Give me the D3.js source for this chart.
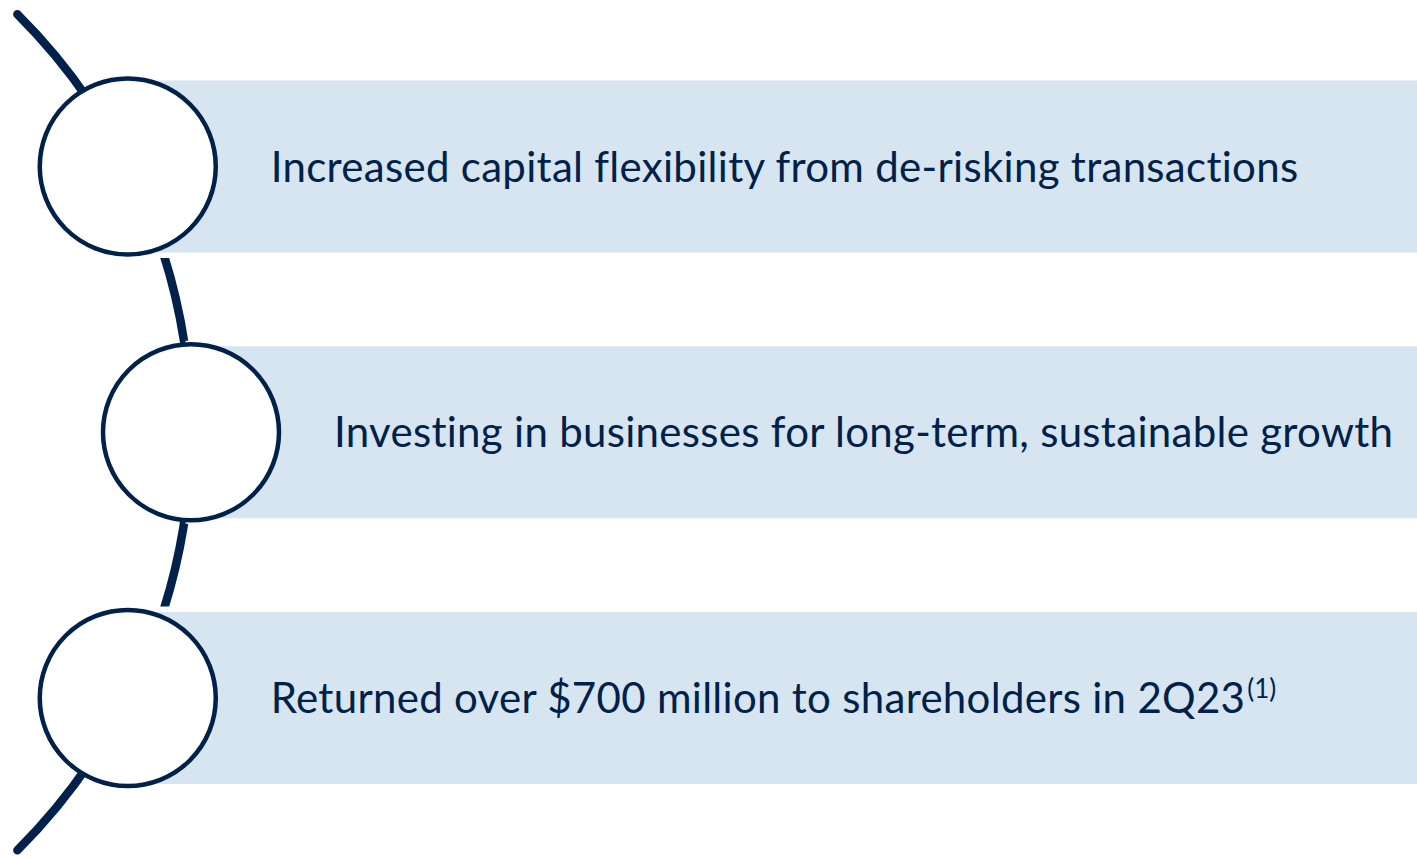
<!DOCTYPE html>
<html>
<head>
<meta charset="utf-8">
<script src="https://cdn.jsdelivr.net/npm/d3@7"></script>
<style>
  html, body { margin: 0; padding: 0; background: #fff; }
  svg { display: block; }
</style>
</head>
<body>
<div id="chart"></div>
<script>
const w = 1417;
const h = 858;

// items, top to bottom
const labels = [
    "Increased capital flexibility from de-risking transactions",
    "Investing in businesses for long-term, sustainable growth",
    "Returned over $700 million to shareholders in 2Q23"
];
const footnotes = ["", "", "(1)"];

const navy = "#00214a";
const bandFill = "#d6e5f0";

const R = 590;          // radius of the big connecting arc
const arcPeak = 191;    // right-most x of the arc
const circleR = 88;
const bandH = 172;
const textGap = 143;

const svg = d3.select("#chart").append("svg")
    .attr("width", w)
    .attr("height", h);

const yScale = d3.scalePoint()
    .domain(d3.range(labels.length))
    .range([166.5, 698]);

const cy = (yScale(0) + yScale(labels.length - 1)) / 2;
const cx = arcPeak - R;
const arcX = y => cx + Math.sqrt(R * R - (y - cy) * (y - cy));

// connecting arc
const half = Math.asin(418 / R);
const p = d3.path();
p.arc(cx, cy, R, -half, half);
svg.append("path")
    .attr("d", p.toString())
    .attr("fill", "none")
    .attr("stroke", navy)
    .attr("stroke-width", 8.5)
    .attr("stroke-linecap", "round");

const items = labels.map((d, i) => ({
    label: d,
    note: footnotes[i],
    y: yScale(i),
    x: arcX(yScale(i))
}));

// bands, with a white edge that cuts the arc
svg.selectAll("rect.band")
    .data(items)
    .enter()
    .append("rect")
    .attr("class", "band")
    .attr("x", d => d.x)
    .attr("y", d => d.y - bandH / 2)
    .attr("width", d => w - d.x + 10)
    .attr("height", bandH)
    .attr("fill", bandFill)
    .attr("stroke", "#fff")
    .attr("stroke-width", 11)
    .attr("paint-order", "stroke");

svg.selectAll("circle.node")
    .data(items)
    .enter()
    .append("circle")
    .attr("class", "node")
    .attr("cx", d => d.x)
    .attr("cy", d => d.y)
    .attr("r", circleR)
    .attr("fill", "#fff")
    .attr("stroke", navy)
    .attr("stroke-width", 4.5);

const txt = svg.selectAll("text.label")
    .data(items)
    .enter()
    .append("text")
    .attr("class", "label")
    .attr("x", d => d.x + textGap)
    .attr("y", d => d.y + 15)
    .style("font-family", "Lato, 'Open Sans', sans-serif")
    .style("font-size", "42px")
    .style("letter-spacing", "0.3px")
    .style("font-variant-ligatures", "none")
    .style("fill", navy);

txt.append("tspan").text(d => d.label);
txt.append("tspan")
    .attr("dy", -15)
    .attr("dx", 2)
    .style("font-size", "26px")
    .style("letter-spacing", "0")
    .text(d => d.note);
</script>
</body>
</html>
